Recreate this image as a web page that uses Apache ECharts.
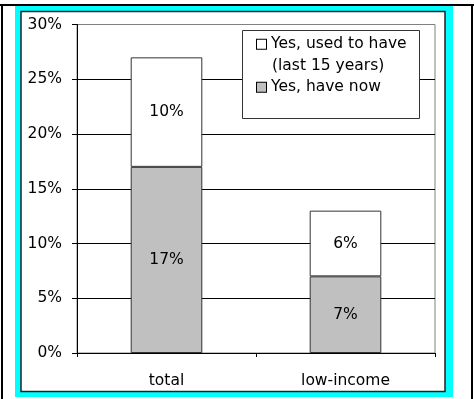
<!DOCTYPE html>
<html>
<head>
<meta charset="utf-8">
<script src="https://cdn.jsdelivr.net/npm/echarts@6/dist/echarts.min.js"></script>
<style>
  html, body { margin: 0; padding: 0; background: #fff; }
  #chart { width: 474px; height: 399px; }
</style>
</head>
<body>
<div id="chart"></div>
<script>
// Categories and stacked shares (percent)
const categories = ['total', 'low-income'];
const haveNow = [17, 7];
const usedToHave = [10, 6];
const yTicks = [0, 5, 10, 15, 20, 25, 30];

const nameNow = 'Yes, have now';
const nameUsed = 'Yes, used to have (last 15 years)';

const FONT = 'DejaVu Sans';
const FS = 15.5;
const LH = 21.5;

const richStyles = {
  t: { fontFamily: FONT, fontSize: FS, lineHeight: LH, color: '#000' },
  sqW: { width: 9, height: 9, lineHeight: LH, backgroundColor: '#fff', borderColor: '#000', borderWidth: 1 },
  sqG: { width: 9, height: 9, lineHeight: LH, backgroundColor: '#C0C0C0', borderColor: '#000', borderWidth: 1 },
  gap: { width: 5, lineHeight: LH },
  pad: { width: 15, lineHeight: LH }
};

function legendFor(name, top) {
  return {
    orient: 'vertical',
    left: 251, top: top,
    padding: 0,
    itemGap: 0,
    itemWidth: 0, itemHeight: 0,
    itemStyle: { opacity: 0 },
    selectedMode: false,
    data: [name],
    formatter: function (n) {
      if (n === nameUsed) {
        return '{sqW|}{gap|}{t|Yes, used to have}\n{pad|}{t|(last 15 years)}';
      }
      return '{sqG|}{gap|}{t|Yes, have now}';
    },
    textStyle: { fontFamily: FONT, fontSize: FS, color: '#000', rich: richStyles }
  };
}

const chart = echarts.init(document.getElementById('chart'), null, { renderer: 'canvas' });

chart.setOption({
  animation: false,
  backgroundColor: '#ffffff',
  textStyle: { fontFamily: FONT, fontSize: FS, color: '#000' },
  graphic: [
    // outer cell rules
    { type: 'rect', z: -20, silent: true, shape: { x: 0, y: 4, width: 474, height: 2 }, style: { fill: '#000' } },
    { type: 'rect', z: -20, silent: true, shape: { x: 1, y: 4, width: 2, height: 395 }, style: { fill: '#000' } },
    { type: 'rect', z: -20, silent: true, shape: { x: 471, y: 4, width: 2, height: 395 }, style: { fill: '#000' } },
    // cyan frame with dark inner edge
    { type: 'rect', z: -19, silent: true, shape: { x: 15, y: 6, width: 438, height: 391 }, style: { fill: '#00FFFF' } },
    { type: 'rect', z: -18, silent: true, shape: { x: 21, y: 11.5, width: 424, height: 380 },
      style: { fill: '#fff', stroke: '#222', lineWidth: 1.5 } },
    // legend box
    { type: 'rect', z: 5, silent: true, shape: { x: 242.5, y: 30.5, width: 177, height: 88 },
      style: { fill: '#fff', stroke: '#333', lineWidth: 1 } }
  ],
  grid: {
    left: 77, right: 39, top: 24.5, bottom: 46,
    show: true, backgroundColor: '#fff', borderColor: '#808080', borderWidth: 1
  },
  legend: [
    Object.assign(legendFor(nameUsed, 36.25), { z: 6 }),
    Object.assign(legendFor(nameNow, 79.25), { z: 6 })
  ],
  xAxis: {
    type: 'category',
    data: categories,
    axisLine: { show: true, lineStyle: { color: '#000', width: 1 } },
    axisTick: { show: true, length: 4, alignWithLabel: false, lineStyle: { color: '#000' } },
    axisLabel: { margin: 20, fontFamily: FONT, fontSize: FS, color: '#000' },
    splitLine: { show: false }
  },
  yAxis: {
    type: 'value',
    min: yTicks[0], max: yTicks[yTicks.length - 1], interval: 5,
    axisLine: { show: true, lineStyle: { color: '#000', width: 1 } },
    axisTick: { show: true, length: 5, lineStyle: { color: '#000' } },
    axisLabel: { margin: 15, formatter: '{value}%', fontFamily: FONT, fontSize: FS, color: '#000' },
    splitLine: { show: true, lineStyle: { color: ['#000', '#000', '#000', '#000', '#000', '#000', '#808080'], width: 1 } }
  },
  series: [
    {
      name: nameNow, type: 'bar', stack: 'share', barWidth: '40%',
      data: haveNow,
      itemStyle: { color: '#C0C0C0', borderColor: '#333', borderWidth: 1 },
      label: { show: true, position: 'inside', formatter: '{c}%', fontFamily: FONT, fontSize: FS, color: '#000' }
    },
    {
      name: nameUsed, type: 'bar', stack: 'share', barWidth: '40%',
      data: usedToHave,
      itemStyle: { color: '#FFFFFF', borderColor: '#333', borderWidth: 1 },
      label: { show: true, position: 'inside', formatter: '{c}%', fontFamily: FONT, fontSize: FS, color: '#000' }
    }
  ]
});
</script>
</body>
</html>
